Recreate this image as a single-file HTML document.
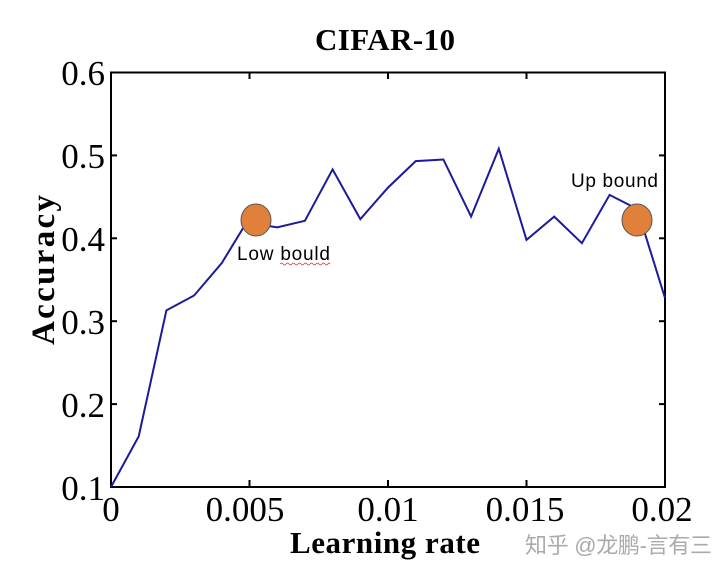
<!DOCTYPE html>
<html><head><style>body{margin:0;background:#fff}</style></head><body>
<svg width="720" height="577" xmlns="http://www.w3.org/2000/svg" style="display:block">
<rect width="720" height="577" fill="#fff"/>
<text x="385" y="50" font-family="Liberation Serif" font-weight="bold" font-size="31" text-anchor="middle" textLength="140">CIFAR-10</text>
<rect x="111" y="72.5" width="554" height="414.5" fill="none" stroke="#000" stroke-width="2"/>
<g stroke="#000" stroke-width="2">
<line x1="249.5" y1="487" x2="249.5" y2="480"/><line x1="388" y1="487" x2="388" y2="480"/><line x1="526.5" y1="487" x2="526.5" y2="480"/>
<line x1="249.5" y1="72.5" x2="249.5" y2="79"/><line x1="388" y1="72.5" x2="388" y2="79"/><line x1="526.5" y1="72.5" x2="526.5" y2="79"/>
<line x1="111" y1="155.4" x2="117" y2="155.4"/><line x1="111" y1="238.3" x2="117" y2="238.3"/><line x1="111" y1="321.2" x2="117" y2="321.2"/><line x1="111" y1="404.1" x2="117" y2="404.1"/>
<line x1="665" y1="155.4" x2="659" y2="155.4"/><line x1="665" y1="238.3" x2="659" y2="238.3"/><line x1="665" y1="321.2" x2="659" y2="321.2"/><line x1="665" y1="404.1" x2="659" y2="404.1"/>
</g>
<g font-family="Liberation Serif" font-size="35" text-anchor="end">
<text x="105" y="85">0.6</text><text x="105" y="168">0.5</text><text x="105" y="251">0.4</text><text x="105" y="334">0.3</text><text x="105" y="417">0.2</text><text x="105" y="500">0.1</text>
</g>
<g font-family="Liberation Serif" font-size="35" text-anchor="middle">
<text x="111" y="521">0</text><text x="245" y="521">0.005</text><text x="388" y="521">0.01</text><text x="525" y="521">0.015</text><text x="662" y="521">0.02</text>
</g>
<text x="385" y="553" font-family="Liberation Serif" font-weight="bold" font-size="31" text-anchor="middle" textLength="190">Learning rate</text>
<text transform="translate(54,270) rotate(-90)" font-family="Liberation Serif" font-weight="bold" font-size="33" text-anchor="middle" textLength="150">Accuracy</text>
<polyline fill="none" stroke="#1a1a9a" stroke-width="2" points="111,487 138.7,436.4 166.4,310.4 194.1,295.5 221.8,263 245,225 256,224 277.2,227.4 304.9,220.8 332.6,169.4 360.3,219.1 388,187.6 415.7,161.1 443.4,159.5 471.1,216.6 498.8,148.7 526.5,239.9 554.2,216.6 581.9,243.2 609.6,194.9 637.3,209 665,298"/>
<ellipse cx="256" cy="220" rx="15" ry="16" fill="#e0803a" stroke="#555" stroke-width="1"/>
<ellipse cx="637" cy="220" rx="15" ry="16" fill="#e0803a" stroke="#555" stroke-width="1"/>
<text x="237" y="260" font-family="Liberation Sans" font-size="19" textLength="93">Low bould</text>
<path d="M280 264 q1.5 -2 3 0 t3 0 t3 0 t3 0 t3 0 t3 0 t3 0 t3 0 t3 0 t3 0 t3 0 t3 0 t3 0 t3 0 t3 0 t3 0 t2 0" fill="none" stroke="#d33" stroke-width="0.8"/>
<text x="571" y="187" font-family="Liberation Sans" font-size="19" textLength="87">Up bound</text>
<text x="525" y="553" font-family="Liberation Sans, Noto Sans CJK SC, sans-serif" font-size="22" fill="#aaa" textLength="187">知乎 @龙鹏-言有三</text>
</svg>
</body></html>
